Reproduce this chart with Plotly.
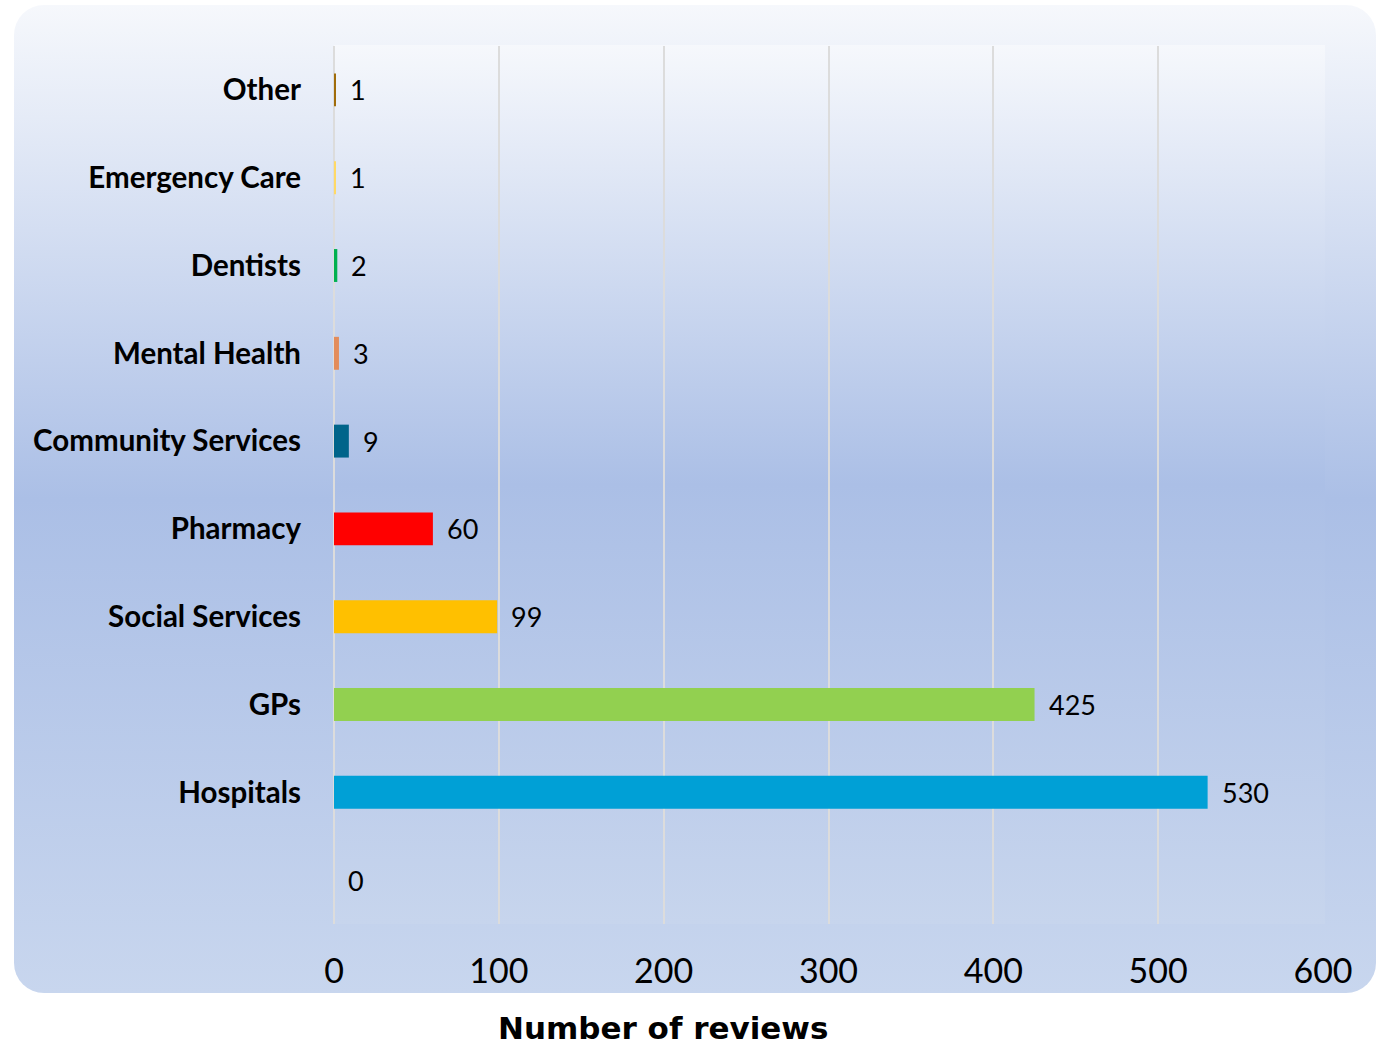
import base64
import plotly.graph_objects as go

# Review counts by service type (bottom to top on the chart)
categories = [" ", "Hospitals", "GPs", "Social Services", "Pharmacy",
              "Community Services", "Mental Health", "Dentists",
              "Emergency Care", "Other"]
reviews = [0, 530, 425, 99, 60, 9, 3, 2, 1, 1]
bar_colors = ["rgba(0,0,0,0)", "#00a0d6", "#92d050", "#ffc000", "#ff0000",
              "#00648a", "#e38c5b", "#00b050", "#ffd966", "#a06c0a"]
x_ticks = [0, 100, 200, 300, 400, 500, 600]

W, H = 1382, 1045
PLOT_L, PLOT_R, PLOT_T, PLOT_B = 334, 1323, 46, 924

# Background panel: rounded chart area + plot area, both with a soft blue gradient
svg = f"""<svg xmlns='http://www.w3.org/2000/svg' width='{W}' height='{H}' viewBox='0 0 {W} {H}' preserveAspectRatio='none'>
<defs>
<linearGradient id='ga' x1='0' y1='0' x2='0' y2='1'>
<stop offset='0' stop-color='#f6f8fc'/>
<stop offset='0.5' stop-color='#abbfe6'/>
<stop offset='1' stop-color='#c8d6ee'/>
</linearGradient>
<linearGradient id='gp' x1='0' y1='0' x2='0' y2='1'>
<stop offset='0' stop-color='#f6f8fc'/>
<stop offset='0.5' stop-color='#abbfe6'/>
<stop offset='1' stop-color='#c7d5ed'/>
</linearGradient>
</defs>
<rect x='14' y='5' width='1362' height='988' rx='30' ry='30' fill='url(#ga)'/>
<rect x='{PLOT_L}' y='{PLOT_T - 1}' width='{PLOT_R - PLOT_L + 2}' height='{PLOT_B - PLOT_T + 1}' fill='url(#gp)'/>
</svg>"""
bg_uri = "data:image/svg+xml;base64," + base64.b64encode(svg.encode()).decode()

pw, ph = PLOT_R - PLOT_L, PLOT_B - PLOT_T

fig = go.Figure()
fig.add_trace(go.Bar(
    y=categories, x=reviews, orientation="h",
    marker=dict(color=bar_colors, line=dict(width=0)),
    width=0.375, hoverinfo="x+y",
))

# Value labels just past the end of each bar
for cat, val in zip(categories, reviews):
    fig.add_annotation(x=val, y=cat, text=str(val), showarrow=False,
                       xanchor="left", yanchor="middle", xshift=12,
                       font=dict(family="Lato", size=27, color="#000000"))

# Axis title below the tick labels
fig.add_annotation(xref="paper", yref="paper",
                   x=(663 - PLOT_L) / pw, y=-(1028 - PLOT_B) / ph,
                   text="<b>Number of reviews</b>", showarrow=False,
                   xanchor="center", yanchor="middle",
                   font=dict(family="DejaVu Sans", size=31, color="#000000"))

fig.update_layout(
    width=W, height=H,
    margin=dict(l=PLOT_L, r=W - PLOT_R, t=PLOT_T, b=H - PLOT_B, pad=0),
    paper_bgcolor="#ffffff", plot_bgcolor="rgba(0,0,0,0)",
    showlegend=False, bargap=0.6,
    images=[dict(source=bg_uri, xref="paper", yref="paper",
                 x=-PLOT_L / pw, y=PLOT_B / ph, sizex=W / pw, sizey=H / ph,
                 xanchor="left", yanchor="top", sizing="stretch",
                 layer="below")],
    xaxis=dict(range=[0, 600], tickvals=x_ticks, showgrid=True,
               gridcolor="#dcdcdc", gridwidth=2, zeroline=True,
               zerolinecolor="#dcdcdc", zerolinewidth=2, showline=False,
               ticks="", ticklabelstandoff=24,
               tickfont=dict(family="Lato", size=34, color="#000000")),
    yaxis=dict(type="category", categoryorder="array", categoryarray=categories,
               range=[-0.5, 9.5], showgrid=False, zeroline=False,
               showline=False, ticks="", ticklabelstandoff=32,
               tickfont=dict(family="Lato", size=29.5, color="#000000",
                             weight="bold")),
)

fig.write_html("out.html")
